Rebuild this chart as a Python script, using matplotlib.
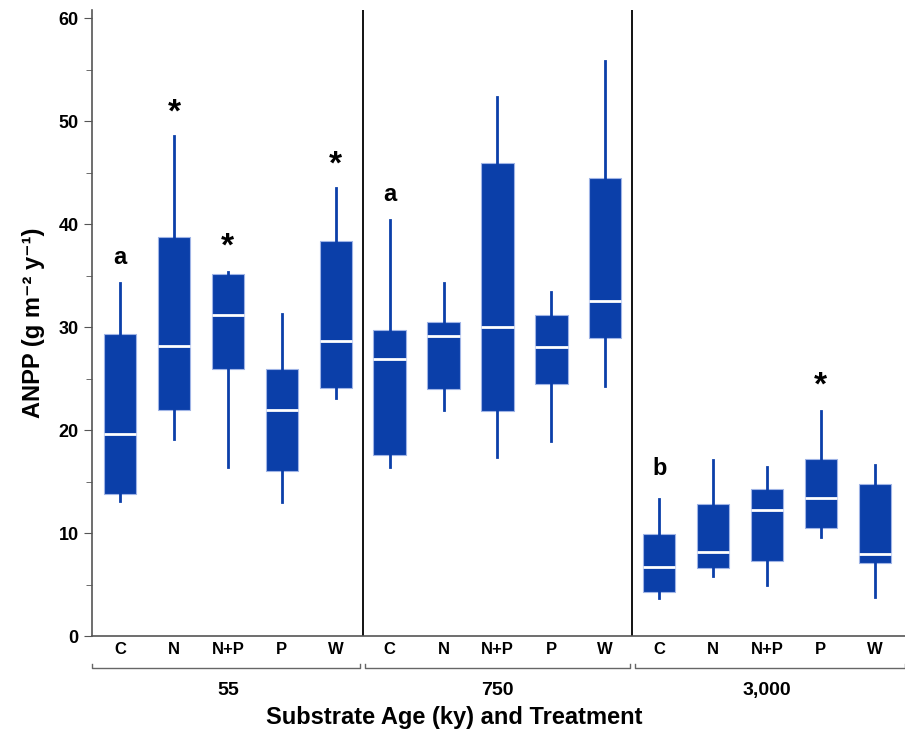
import matplotlib
matplotlib.use("Agg")
import matplotlib.pyplot as plt
import matplotlib.transforms as mtransforms

plt.rcParams["font.family"] = ["Liberation Sans", "DejaVu Sans"]

# ANPP box statistics, per substrate age and treatment
ages = ["55", "750", "3,000"]
treatments = ["C", "N", "N+P", "P", "W"]

whisker_low = [13.1, 19.1, 16.4, 13.0, 23.1,
               16.4, 22.0, 17.4, 18.9, 24.3,
               3.7, 5.8, 5.0, 9.6, 3.8]
q1 = [13.8, 22.0, 25.9, 16.0, 24.1,
      17.6, 24.0, 21.9, 24.5, 29.0,
      4.3, 6.6, 7.3, 10.5, 7.1]
medians = [19.6, 28.2, 31.2, 22.0, 28.7,
           26.9, 29.1, 30.0, 28.1, 32.5,
           6.7, 8.2, 12.2, 13.4, 8.0]
q3 = [29.3, 38.8, 35.2, 25.9, 38.4,
      29.7, 30.5, 46.0, 31.2, 44.5,
      9.9, 12.8, 14.3, 17.2, 14.8]
whisker_high = [34.3, 48.6, 35.4, 31.3, 43.5,
                40.4, 34.3, 52.4, 33.4, 55.9,
                13.3, 17.1, 16.4, 21.9, 16.6]

# significance marks: (box index, label, height)
marks = [(0, "a", 36.8), (1, "*", 50.8), (2, "*", 37.8), (4, "*", 45.8),
         (5, "a", 42.9), (10, "b", 16.3), (13, "*", 24.3)]

blue = "#0B3FA9"

fig = plt.figure(figsize=(9.05, 7.38), dpi=100)
ax = fig.add_axes([0.1017, 0.1382, 0.8983, 0.8480])

n = len(medians)
stats = []
for i in range(n):
    stats.append(dict(whislo=whisker_low[i], q1=q1[i], med=medians[i],
                      q3=q3[i], whishi=whisker_high[i], fliers=[]))
positions = list(range(n))
ax.bxp(stats, positions=positions, widths=0.6, patch_artist=True,
       showcaps=False, showfliers=False,
       boxprops=dict(facecolor=blue, edgecolor="#9fb4e6", linewidth=0.8),
       whiskerprops=dict(color=blue, linewidth=2),
       medianprops=dict(color="white", linewidth=2))

for i, label, y in marks:
    if label == "*":
        ax.text(i, y, label, ha="center", va="center", fontsize=24,
                fontweight="bold")
    else:
        ax.text(i, y, label, ha="center", va="center", fontsize=17,
                fontweight="bold")

# separators between age groups
for g in range(1, len(ages)):
    ax.axvline(g * len(treatments) - 0.5, color="black", linewidth=1.3)

ax.set_xlim(-0.52, n - 0.44)
ax.set_ylim(0, 60.8)
ax.set_yticks(range(0, 61, 10))
ax.set_yticks(range(5, 60, 10), minor=True)
ax.tick_params(axis="y", which="major", length=6, color="#555555",
               labelsize=13)
ax.tick_params(axis="y", which="minor", length=4, color="#555555")
for t in ax.get_yticklabels():
    t.set_fontweight("bold")

ax.set_xticks(positions)
ax.set_xticklabels(treatments * len(ages), fontsize=12, fontweight="bold")
ax.tick_params(axis="x", length=0, pad=4)

ax.spines["top"].set_visible(False)
ax.spines["right"].set_visible(False)
ax.spines["left"].set_color("#555555")
ax.spines["bottom"].set_color("#555555")
ax.spines["left"].set_linewidth(1.2)
ax.spines["bottom"].set_linewidth(1.2)

# group brackets and age labels under the treatment labels
trans = mtransforms.blended_transform_factory(ax.transData, ax.transAxes)
for g, age in enumerate(ages):
    x0 = g * len(treatments) - 0.45
    x1 = (g + 1) * len(treatments) - 0.55
    if g == 0:
        x0 = -0.52
    if g == len(ages) - 1:
        x1 = n - 0.44
    ax.plot([x0, x0, x1, x1], [-0.045, -0.051, -0.051, -0.045],
            color="#666666", linewidth=1.0, transform=trans, clip_on=False)
    xc = g * len(treatments) + (len(treatments) - 1) / 2
    ax.text(xc, -0.087, age, transform=trans, ha="center", va="center",
            fontsize=14, fontweight="bold")

ax.text(0.445, -0.131, "Substrate Age (ky) and Treatment",
        transform=ax.transAxes, ha="center", va="center",
        fontsize=17, fontweight="bold")
ax.set_ylabel("ANPP (g m\u207b\u00b2 y\u207b\u00b9)", fontsize=17,
              fontweight="bold", labelpad=10)

fig.savefig("out.png", dpi=100)
